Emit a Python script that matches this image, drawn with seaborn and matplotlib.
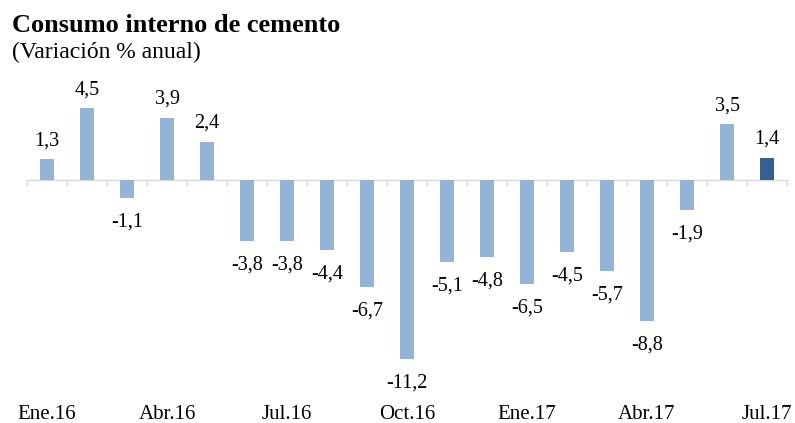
import matplotlib
matplotlib.use("Agg")
import matplotlib.pyplot as plt
import seaborn as sns
import numpy as np
import pandas as pd

categories = ["Ene.16", "Feb.16", "Mar.16", "Abr.16", "May.16", "Jun.16", "Jul.16",
              "Ago.16", "Sep.16", "Oct.16", "Nov.16", "Dic.16", "Ene.17", "Feb.17",
              "Mar.17", "Abr.17", "May.17", "Jun.17", "Jul.17"]
values = [1.3, 4.5, -1.1, 3.9, 2.4, -3.8, -3.8, -4.4, -6.7, -11.2, -5.1, -4.8,
          -6.5, -4.5, -5.7, -8.8, -1.9, 3.5, 1.4]
tick_labels = ["Ene.16", "Abr.16", "Jul.16", "Oct.16", "Ene.17", "Abr.17", "Jul.17"]
title = "Consumo interno de cemento"
subtitle = "(Variación % anual)"

light = "#95B3D7"
dark = "#376092"
colors = [light] * (len(values) - 1) + [dark]

sns.set_theme(style="white")
plt.rcParams['font.family'] = ['Liberation Serif', 'DejaVu Serif']

df = pd.DataFrame({"mes": categories, "var": values})

W, H = 795, 423
fig = plt.figure(figsize=(W / 100, H / 100), dpi=100)
x0, x1 = 27, 787
y_top, y_bot = 60, 395
ax = fig.add_axes([x0 / W, 1 - y_bot / H, (x1 - x0) / W, (y_bot - y_top) / H])

sns.barplot(data=df, x="mes", y="var", hue="mes", palette=colors, width=0.33,
            legend=False, ax=ax, saturation=1, edgecolor="none")

zero_px = 180
scale = 16.0
ymax = (zero_px - y_top) / scale
ymin = -(y_bot - zero_px) / scale
ax.set_ylim(ymin, ymax)
ax.set_xlim(-0.5, len(categories) - 0.5)

for s in ax.spines.values():
    s.set_visible(False)
ax.set_yticks([])
ax.set_ylabel("")
ax.set_xlabel("")

idx = [categories.index(t) for t in tick_labels]
ax.set_xticks(idx)
ax.set_xticklabels(tick_labels, fontsize=15, color="#000000")
ax.tick_params(axis="x", length=0, pad=7)

# zero axis line with boundary ticks
zero_frac = (0 - ymin) / (ymax - ymin)
sec = ax.secondary_xaxis(zero_frac)
for s in sec.spines.values():
    s.set_visible(False)
sec.spines["bottom"].set_visible(True)
sec.spines["bottom"].set_color("#D9D9D9")
sec.spines["bottom"].set_linewidth(1.0)
sec.xaxis.set_ticks_position("bottom")
sec.set_xticks(np.arange(len(categories) + 1) - 0.5)
sec.set_xticklabels([])
sec.tick_params(axis="x", length=4, width=1.0, color="#D9D9D9", direction="out")

for cont in ax.containers:
    for bar in cont:
        h = bar.get_height()
        xc = bar.get_x() + bar.get_width() / 2
        lab = f"{h:.1f}".replace(".", ",")
        off = 10 if h >= 0 else -20.5
        ax.annotate(lab, (xc, h), xytext=(0, off), textcoords="offset points",
                    ha="center", va="baseline", fontsize=14.5, color="#000000")

fig.text(12 / W, 1 - 32 / H, title, fontsize=19, fontweight="bold",
         ha="left", va="baseline", color="#000000")
fig.text(12 / W, 1 - 58 / H, subtitle, fontsize=17,
         ha="left", va="baseline", color="#000000")

fig.savefig("out.png", dpi=100)
